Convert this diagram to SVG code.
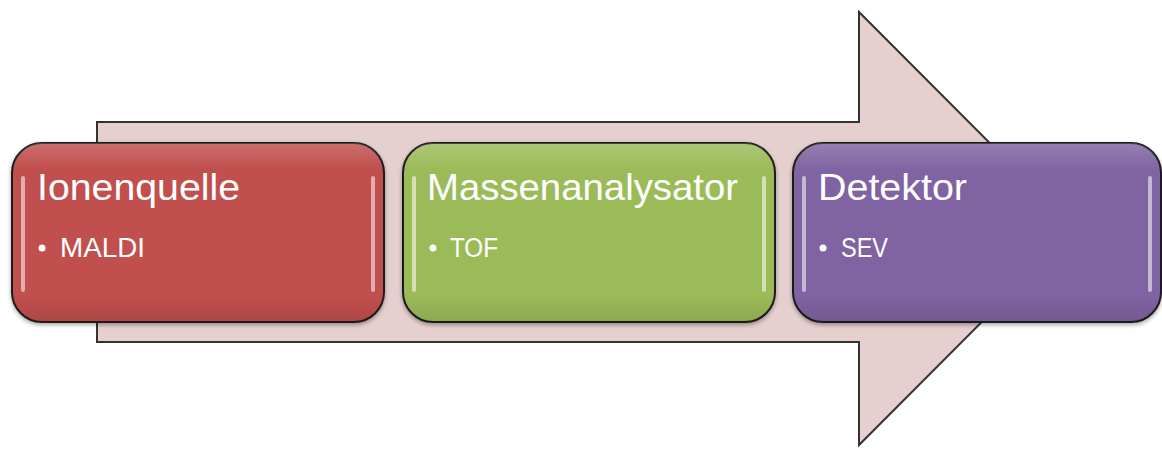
<svg xmlns="http://www.w3.org/2000/svg" width="1162" height="450" viewBox="0 0 1162 450">
<defs>
<style>
.box{stroke:#1a1a1a;stroke-width:2}
.title{font-family:"Liberation Sans",Arial,sans-serif;font-size:37px;fill:#fff}
.item{font-family:"Liberation Sans",Arial,sans-serif;font-size:27px;fill:#fff}
.hl{fill:none;stroke:#fff;stroke-opacity:0.55;stroke-width:4;stroke-linecap:round}
</style>
<linearGradient id="gloss" x1="0" y1="0" x2="0" y2="1">
<stop offset="0" stop-color="#fff" stop-opacity="0.18"/>
<stop offset="0.15" stop-color="#fff" stop-opacity="0"/>
<stop offset="0.85" stop-color="#000" stop-opacity="0"/>
<stop offset="1" stop-color="#000" stop-opacity="0.1"/>
</linearGradient>
<filter id="sh" x="-5%" y="-5%" width="110%" height="115%">
<feDropShadow dx="0" dy="2" stdDeviation="2" flood-color="#000" flood-opacity="0.35"/>
</filter>
</defs>
<g id="arrow">
<polygon points="97,122 859,122 859,12 1075,228.5 859,445 859,342 97,342" fill="#e6cfcf" stroke="#333" stroke-width="2"/>
</g>
<g id="node-ionenquelle">
<rect class="box" x="12" y="143" width="372" height="179" rx="30" fill="#c0504d" filter="url(#sh)"/>
<rect x="12" y="143" width="372" height="179" rx="30" fill="url(#gloss)"/>
<path class="hl" d="M23,178 L23,290"/>
<path class="hl" d="M373,178 L373,290"/>
<text class="title" x="37" y="200" textLength="203" lengthAdjust="spacingAndGlyphs">Ionenquelle</text>
<circle cx="42" cy="248" r="3.5" fill="#fff"/>
<text class="item" x="60" y="257" textLength="85" lengthAdjust="spacingAndGlyphs">MALDI</text>
</g>
<g id="node-massenanalysator">
<rect class="box" x="403" y="143" width="372" height="179" rx="30" fill="#9bbb59" filter="url(#sh)"/>
<rect x="403" y="143" width="372" height="179" rx="30" fill="url(#gloss)"/>
<path class="hl" d="M414,178 L414,290"/>
<path class="hl" d="M764,178 L764,290"/>
<text class="title" x="427" y="200" textLength="311" lengthAdjust="spacingAndGlyphs">Massenanalysator</text>
<circle cx="433" cy="248" r="3.5" fill="#fff"/>
<text class="item" x="450" y="257" textLength="48" lengthAdjust="spacingAndGlyphs">TOF</text>
</g>
<g id="node-detektor">
<rect class="box" x="793" y="143" width="368" height="179" rx="30" fill="#8064a2" filter="url(#sh)"/>
<rect x="793" y="143" width="368" height="179" rx="30" fill="url(#gloss)"/>
<path class="hl" d="M804,178 L804,290"/>
<path class="hl" d="M1150,178 L1150,290"/>
<text class="title" x="818" y="200" textLength="149" lengthAdjust="spacingAndGlyphs">Detektor</text>
<circle cx="823" cy="248" r="3.5" fill="#fff"/>
<text class="item" x="841" y="257" textLength="47" lengthAdjust="spacingAndGlyphs">SEV</text>
</g>
<g id="connectors"></g>
</svg>
